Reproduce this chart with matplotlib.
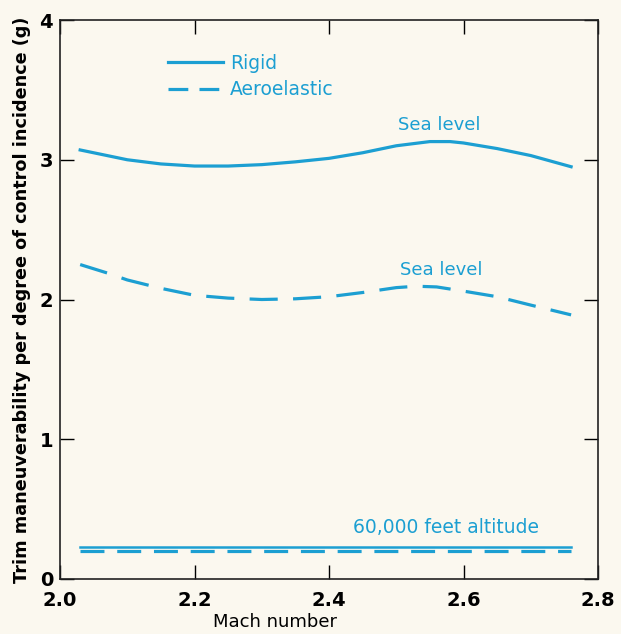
import matplotlib
matplotlib.use('Agg')
import matplotlib.pyplot as plt
from matplotlib.lines import Line2D

# values
mach_rigid = [2.03, 2.07, 2.10, 2.15, 2.20, 2.25, 2.30, 2.35, 2.40, 2.45, 2.50, 2.55, 2.58, 2.60, 2.65, 2.70, 2.76]
g_rigid = [3.07, 3.03, 3.00, 2.97, 2.955, 2.955, 2.965, 2.985, 3.01, 3.05, 3.10, 3.13, 3.13, 3.12, 3.08, 3.03, 2.95]

mach_aero = [2.03, 2.07, 2.10, 2.15, 2.20, 2.25, 2.30, 2.35, 2.40, 2.45, 2.50, 2.53, 2.56, 2.60, 2.65, 2.70, 2.76]
g_aero = [2.25, 2.19, 2.14, 2.08, 2.03, 2.01, 2.00, 2.005, 2.02, 2.05, 2.085, 2.095, 2.09, 2.06, 2.02, 1.96, 1.89]

mach_alt = [2.03, 2.76]
g_alt_rigid = [0.23, 0.23]
g_alt_aero = [0.20, 0.20]

x_ticks = [2.0, 2.2, 2.4, 2.6, 2.8]
y_ticks = [0, 1, 2, 3, 4]

blue = '#1c9fd2'
paper = '#fbf8ef'
plt.rcParams['font.family'] = ['DejaVu Sans']

fig = plt.figure(figsize=(6.21, 6.34), dpi=100, facecolor=paper)
ax = fig.add_axes([60/621, 55/634, 538/621, 559/634])
ax.set_facecolor(paper)

ax.plot(mach_rigid, g_rigid, color=blue, lw=2.3)
ax.plot(mach_aero, g_aero, color=blue, lw=2.3, linestyle=(0, (8.8, 4.8)), dash_capstyle='butt')
ax.plot(mach_alt, g_alt_rigid, color=blue, lw=1.8)
ax.plot(mach_alt, g_alt_aero, color=blue, lw=2.3, linestyle=(0, (7.5, 4.0)), dash_capstyle='butt')

ax.text(2.564, 3.25, 'Sea level', color=blue, fontsize=13, ha='center', va='center')
ax.text(2.567, 2.21, 'Sea level', color=blue, fontsize=13, ha='center', va='center')
ax.text(2.574, 0.365, '60,000 feet altitude', color=blue, fontsize=13.5, ha='center', va='center')

handles = [Line2D([], [], color=blue, lw=2.3),
           Line2D([], [], color=blue, lw=2.3, linestyle=(0, (6.2, 3.5)))]
ax.legend(handles, ['Rigid', 'Aeroelastic'], loc='upper left', bbox_to_anchor=(0.17, 0.97),
          frameon=False, labelcolor=blue, fontsize=13.5, handlelength=2.9, handletextpad=0.4,
          labelspacing=0.4)

ax.set_xlim(2.0, 2.8)
ax.set_ylim(0, 4)
ax.set_xticks(x_ticks)
ax.set_yticks(y_ticks)
ax.set_xticklabels(['2.0', '2.2', '2.4', '2.6', '2.8'], fontweight='bold', fontsize=14)
ax.set_yticklabels(['0', '1', '2', '3', '4'], fontweight='bold', fontsize=14)
ax.tick_params(axis='x', pad=9)
ax.tick_params(axis='y', pad=5)
ax.tick_params(direction='in', length=10, width=1, top=True, right=True)
for s in ax.spines.values():
    s.set_linewidth(1.2)
    s.set_color('#222222')

ax.set_xlabel('Mach number', fontsize=13)
ax.xaxis.set_label_coords(0.40, -0.06)
ax.set_ylabel('Trim maneuverability per degree of control incidence (g)', fontsize=12.7,
              fontweight='bold', labelpad=6)

fig.savefig('out.png', dpi=100, facecolor=paper)
